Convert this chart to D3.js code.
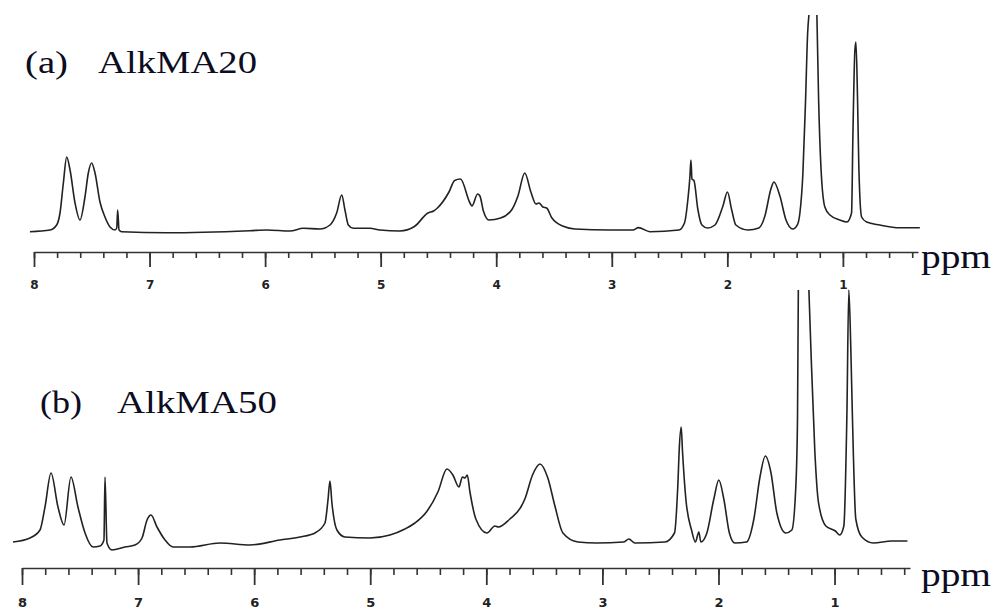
<!DOCTYPE html>
<html>
<head>
<meta charset="utf-8">
<script src="https://cdn.jsdelivr.net/npm/d3@7"></script>
<style>
  html, body { margin: 0; padding: 0; background: #fff; }
  svg { display: block; }
</style>
</head>
<body>
<svg id="chart" width="993" height="610"></svg>
<script>
// ---------- DATA ----------
const panelLetters = ["(a)", "(b)"];
const panelNames = ["AlkMA20", "AlkMA50"];
const unitLabel = "ppm";
const majorTicks = [8, 7, 6, 5, 4, 3, 2, 1];
const majorTickLabels = ["8", "7", "6", "5", "4", "3", "2", "1"];
const minorTicks = d3.range(0, 39).map(i => +(8 - i * 0.2).toFixed(1));

// (a) AlkMA20 — chemical shift (ppm) and relative intensity (null = pen off scale)
const topPpm = [8.035, 7.862, 7.804, 7.775, 7.746, 7.717, 7.688, 7.645, 7.602, 7.559,
  7.530, 7.501, 7.472, 7.429, 7.386, 7.342, 7.299, 7.284, 7.276, 7.264,
  7.241, 6.852, 6.131, 5.986, 5.785, 5.670, 5.525, 5.439, 5.381, 5.337,
  5.309, 5.280, 5.237, 5.093, 5.006, 4.833, 4.708, 4.591, 4.542, 4.509,
  4.409, 4.360, 4.310, 4.227, 4.210, 4.161, 4.141, 4.111, 4.063, 3.962,
  3.864, 3.812, 3.753, 3.700, 3.656, 3.630, 3.596, 3.564, 3.518, 3.414,
  3.319, 3.016, 2.817, 2.769, 2.670, 2.419, 2.371, 2.341, 2.324, 2.315,
  2.306, 2.289, 2.255, 2.220, 2.171, 2.107, 2.038, 1.999, 1.963, 1.926,
  1.822, 1.727, 1.675, 1.623, 1.597, 1.545, 1.493, 1.433, 1.393, 1.372,
  1.346, 1.323, 1.305, 1.294, 1.260, 1.225, 1.210, 1.190, 1.156, 1.112,
  1.026, 0.965, 0.925, 0.913, 0.896, 0.887, 0.873, 0.862, 0.838, 0.795,
  0.680, 0.507, 0.334];
const topInt = [0.3, 2, 7, 19, 49, 75, 62, 29, 12, 35,
  59, 69, 59, 30, 15, 5, 2, 4, 22, 2,
  0.3, -0.7, 1.3, 2, 1, 3.7, 3, 7, 19, 37,
  22, 7, 3.7, 3.7, 2, 1, 5.5, 19, 21, 24,
  40, 51.5, 53, 29, 26, 38, 36, 21, 12, 14,
  22.5, 36, 59, 40, 28, 29, 25, 24, 14, 5.4,
  3, 2, 2, 4.4, 0.3, 2, 9, 33, 55, 72,
  53, 51.5, 22.5, 7, 4, 7, 26, 40, 22.5, 7,
  2, 4, 16, 43, 50, 36, 12.3, 3, 7.4, 19,
  59, 132, 199, 217, null, 217, 132, 65, 25, 17,
  12, 10, 19, 99, 182, 190, 132, 65, 15, 10,
  7, 4.3, 4.3];

// (b) AlkMA50
const botPpm = [8.078, 7.931, 7.845, 7.802, 7.750, 7.690, 7.638, 7.578, 7.518, 7.457,
  7.388, 7.328, 7.294, 7.285, 7.268, 7.225, 7.113, 7.027, 6.966, 6.923,
  6.889, 6.837, 6.768, 6.699, 6.553, 6.295, 6.036, 5.778, 5.606, 5.476,
  5.390, 5.364, 5.347, 5.330, 5.287, 5.218, 5.003, 4.830, 4.701, 4.615,
  4.516, 4.417, 4.339, 4.288, 4.236, 4.206, 4.184, 4.164, 4.141, 4.090,
  3.995, 3.926, 3.896, 3.797, 3.702, 3.668, 3.602, 3.538, 3.470, 3.409,
  3.340, 3.211, 3.048, 2.819, 2.772, 2.720, 2.462, 2.379, 2.350, 2.337,
  2.321, 2.310, 2.281, 2.232, 2.199, 2.169, 2.152, 2.100, 2.040, 1.997,
  1.954, 1.906, 1.859, 1.759, 1.695, 1.644, 1.596, 1.549, 1.497, 1.420,
  1.368, 1.333, 1.319, 1.312, 1.265, 1.221, 1.204, 1.170, 1.139, 1.075,
  0.993, 0.955, 0.920, 0.894, 0.877, 0.860, 0.846, 0.817, 0.765, 0.666,
  0.507, 0.372];
const botInt = [1, 5, 13, 36, 70, 36, 18, 66, 36, 10,
  -4, -3, 3, 66, 0, -7, -4, -2, 5, 23,
  28, 16, 3, -4, -4, 0, -2, 3, 6, 10,
  20, 43, 62, 40, 13, 6, 5, 8, 14, 20,
  31, 51, 74, 68, 56, 66, 65, 68, 51, 24,
  10, 17, 16, 24, 36, 44, 68, 79, 65, 37,
  10, 1, 0, 1, 4, 0, 1, 10, 58, 96,
  116, 92, 44, 13, 1, 11, 1, 10, 44, 63,
  44, 10, 0, 1, 24, 65, 87, 71, 30, 10,
  13, 58, 126, 253, null, 253, 195, 92, 41, 17,
  12, 8, 17, 126, 253, 195, 126, 24, 6, 0,
  2, 2];

// ---------- DRAWING ----------
const svg = d3.select("#chart");
const textColor = "#0c0c22";
const lineColor = "#222";

const panels = [
  { ppm: topPpm, inten: topInt, letter: panelLetters[0], name: panelNames[0],
    x: d3.scaleLinear().domain([8, 0.35]).range([34, 918]),
    y: d3.scaleLinear().domain([0, 217]).range([232, 15]),
    axisY: 252, majorLen: 15, minorLen: 6, labelSize: 12, labelPad: 13,
    letterX: 25, letterW: 43, nameX: 98, nameW: 159, titleY: 73, ppmY: 268 },
  { ppm: botPpm, inten: botInt, letter: panelLetters[1], name: panelNames[1],
    x: d3.scaleLinear().domain([8, 0.35]).range([22, 910]),
    y: d3.scaleLinear().domain([0, 253]).range([543, 290]),
    axisY: 568, majorLen: 17, minorLen: 7, labelSize: 13, labelPad: 13,
    letterX: 40, letterW: 42, nameX: 117, nameW: 160, titleY: 413, ppmY: 586 }
];

panels.forEach(p => {
  const pts = p.ppm.map((v, i) => ({ ppm: v, val: p.inten[i] }));
  const line = d3.line()
    .defined(d => d.val !== null)
    .x(d => p.x(d.ppm))
    .y(d => p.y(d.val))
    .curve(d3.curveMonotoneX);

  svg.append("path")
    .datum(pts)
    .attr("d", line)
    .attr("fill", "none")
    .attr("stroke", lineColor)
    .attr("stroke-width", 1.6)
    .attr("stroke-linejoin", "round");

  // minor ticks + axis line
  const gMinor = svg.append("g")
    .attr("transform", `translate(0,${p.axisY})`)
    .call(d3.axisBottom(p.x).tickValues(minorTicks).tickSize(p.minorLen).tickSizeOuter(0).tickFormat(""));
  gMinor.select(".domain").attr("stroke", "#333").attr("stroke-width", 1.6);
  gMinor.selectAll(".tick line").attr("stroke", "#333").attr("stroke-width", 1.6);

  // major ticks with labels
  const gMajor = svg.append("g")
    .attr("transform", `translate(0,${p.axisY})`)
    .call(d3.axisBottom(p.x).tickValues(majorTicks).tickSize(p.majorLen).tickSizeOuter(0)
      .tickPadding(p.labelPad).tickFormat((d, i) => majorTickLabels[i]));
  gMajor.select(".domain").remove();
  gMajor.selectAll(".tick line").attr("stroke", "#333").attr("stroke-width", 1.8);
  gMajor.selectAll(".tick text")
    .attr("fill", "#222")
    .style("font-family", "'DejaVu Sans', sans-serif")
    .style("font-weight", "bold")
    .style("font-size", p.labelSize + "px");

  // ppm unit
  svg.append("text")
    .attr("x", 921).attr("y", p.ppmY)
    .attr("textLength", 70).attr("lengthAdjust", "spacingAndGlyphs")
    .style("font-family", "'Liberation Serif', 'Times New Roman', serif")
    .style("font-size", "34px")
    .attr("fill", textColor)
    .text(unitLabel);

  // panel title
  svg.append("text")
    .attr("x", p.letterX).attr("y", p.titleY)
    .attr("textLength", p.letterW).attr("lengthAdjust", "spacingAndGlyphs")
    .style("font-family", "'Liberation Serif', 'Times New Roman', serif")
    .style("font-size", "31px")
    .attr("fill", textColor)
    .text(p.letter);
  svg.append("text")
    .attr("x", p.nameX).attr("y", p.titleY)
    .attr("textLength", p.nameW).attr("lengthAdjust", "spacingAndGlyphs")
    .style("font-family", "'Liberation Serif', 'Times New Roman', serif")
    .style("font-size", "31px")
    .attr("fill", textColor)
    .text(p.name);
});
</script>
</body>
</html>
